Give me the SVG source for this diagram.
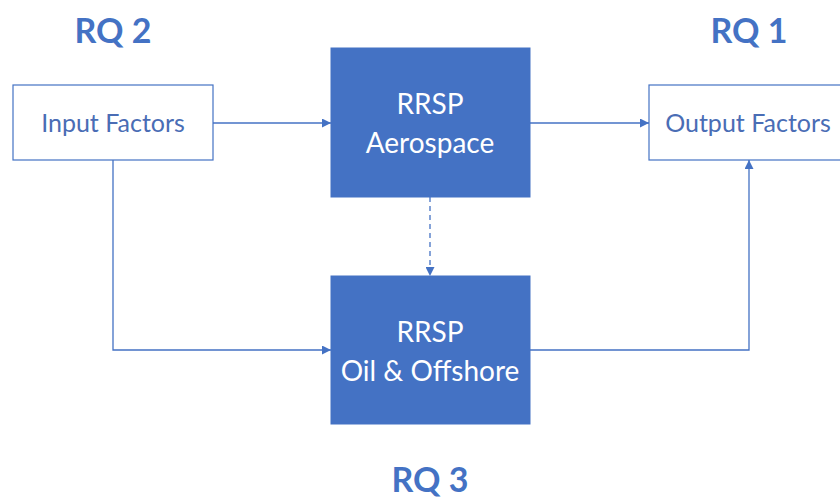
<svg xmlns="http://www.w3.org/2000/svg" width="840" height="498" viewBox="0 0 840 498">
<defs>
<style>
.rq{font-family:Lato,"Open Sans","Liberation Sans",sans-serif;font-weight:bold;font-size:34px;fill:#4472C4;text-anchor:middle}
.wbox{fill:#fff;stroke:#4472C4;stroke-width:1.2}
.bbox{fill:#4472C4;stroke:#4472C4;stroke-width:1}
.wt{font-family:Lato,"Open Sans","Liberation Sans",sans-serif;font-size:25px;fill:#4a6db5;text-anchor:middle}
.bt{font-family:Lato,"Open Sans","Liberation Sans",sans-serif;font-size:28px;fill:#fff;text-anchor:middle}
.ln{fill:none;stroke:#4472C4;stroke-width:1.3}
</style>
<marker id="ah" viewBox="0 0 10 10" refX="10" refY="5" markerWidth="9" markerHeight="9" markerUnits="userSpaceOnUse" orient="auto"><path d="M0,0 L10,5 L0,10 z" fill="#4472C4"/></marker>
</defs>
<rect width="840" height="498" fill="#fff"/>
<text class="rq" x="113" y="43">RQ 2</text>
<text class="rq" x="749" y="43">RQ 1</text>
<text class="rq" x="430" y="492">RQ 3</text>
<g id="connectors">
<path class="ln" d="M213,123 H331" marker-end="url(#ah)"/>
<path class="ln" d="M530,123 H649" marker-end="url(#ah)"/>
<path class="ln" d="M430,197 V276" stroke-dasharray="5,4" marker-end="url(#ah)"/>
<path class="ln" d="M113,160 V350 H331" marker-end="url(#ah)"/>
<path class="ln" d="M530,350 H749 V160" marker-end="url(#ah)"/>
</g>
<g id="input">
<rect class="wbox" x="13" y="85" width="200" height="75"/>
<text class="wt" x="113" y="132">Input Factors</text>
</g>
<g id="aero">
<rect class="bbox" x="331" y="48" width="199" height="149"/>
<text class="bt" x="430" y="114">RRSP</text>
<text class="bt" x="430" y="153">Aerospace</text>
</g>
<g id="output">
<rect class="wbox" x="649" y="85" width="200" height="75"/>
<text class="wt" x="748" y="132">Output Factors</text>
</g>
<g id="oil">
<rect class="bbox" x="331" y="276" width="199" height="148"/>
<text class="bt" x="430" y="342">RRSP</text>
<text class="bt" x="430" y="381">Oil &amp; Offshore</text>
</g>
</svg>
